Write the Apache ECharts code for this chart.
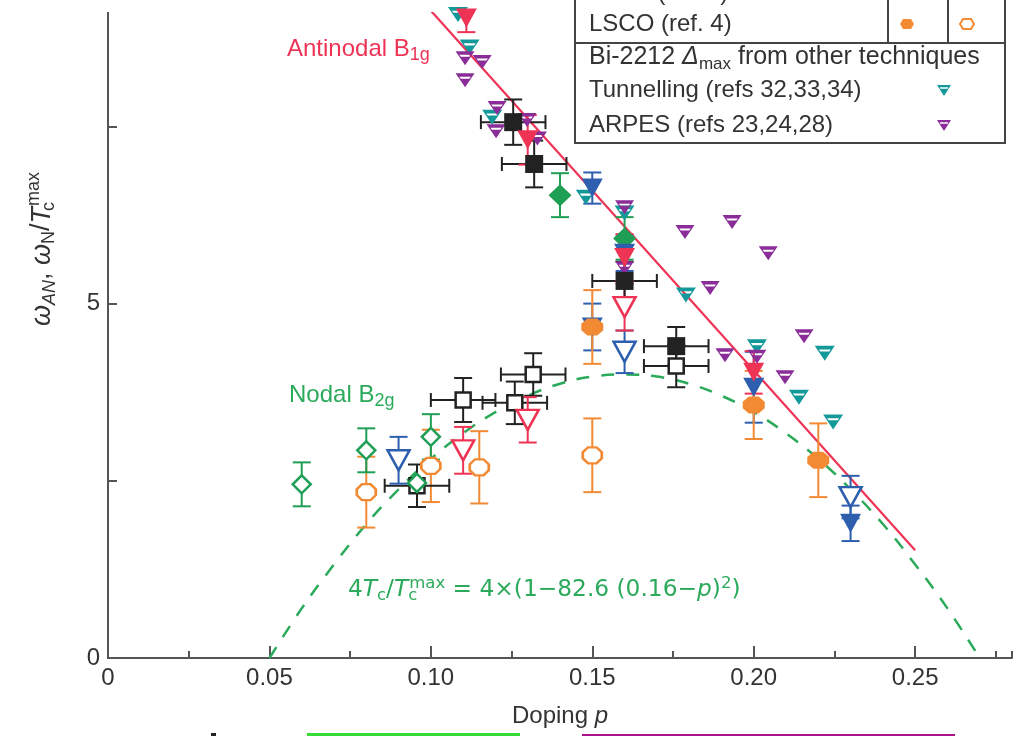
<!DOCTYPE html>
<html>
<head>
<meta charset="utf-8">
<script src="https://cdn.jsdelivr.net/npm/echarts@6/dist/echarts.min.js"></script>
<style>
html, body { margin: 0; padding: 0; background: #fff; }
#main { width: 1015px; height: 736px; }
</style>
</head>
<body>
<div id="main"></div>
<script>
// rows: [doping p, omega / Tc max, y error, p error]
var bi2212B1g = [[0.14, 6.53, 0.31, 0], [0.16, 5.92, 0.30, 0]];
var bi2212B2g = [[0.06, 2.45, 0.31, 0], [0.08, 2.93, 0.31, 0], [0.0957, 2.47, 0, 0], [0.10, 3.12, 0.32, 0]];
var hgB1g = [[0.15, 6.63, 0.22, 0], [0.15, 4.67, 0.33, 0], [0.16, 5.71, 0.25, 0], [0.20, 3.82, 0.50, 0], [0.23, 1.90, 0.25, 0]];
var hgB2g = [[0.09, 2.79, 0.33, 0], [0.16, 4.32, 0.30, 0], [0.23, 2.27, 0.30, 0]];
var tlB1g = [[0.111, 9.03, 0.20, 0], [0.13, 7.31, 0.35, 0], [0.16, 5.65, 0.33, 0], [0.20, 4.03, 0.30, 0]];
var tlB2g = [[0.11, 2.93, 0.33, 0], [0.13, 3.36, 0.32, 0], [0.16, 4.95, 0.33, 0]];
var yB1g = [[0.1255, 7.56, 0.32, 0.01], [0.132, 6.97, 0.33, 0.01], [0.16, 5.32, 0.27, 0.01], [0.176, 4.40, 0.27, 0.01]];
var yB2g = [[0.0957, 2.43, 0.30, 0.01], [0.11, 3.64, 0.31, 0.01], [0.126, 3.60, 0.30, 0.01], [0.1317, 4.00, 0.30, 0.01], [0.176, 4.12, 0.30, 0.01]];
var lscoB1g = [[0.15, 4.67, 0.52, 0], [0.20, 3.57, 0.48, 0], [0.22, 2.79, 0.52, 0]];
var lscoB2g = [[0.08, 2.34, 0.50, 0], [0.10, 2.71, 0.51, 0], [0.115, 2.69, 0.51, 0], [0.15, 2.86, 0.52, 0]];
var tunnelling = [[0.1084, 9.08], [0.112, 8.62], [0.119, 7.63], [0.148, 6.50], [0.16, 6.28], [0.179, 5.12],
  [0.201, 4.39], [0.214, 3.68], [0.222, 4.30], [0.2246, 3.33]];
var arpes = [[0.1106, 8.46], [0.1159, 8.41], [0.1106, 8.15], [0.1205, 7.76], [0.1202, 7.43], [0.1298, 7.59],
  [0.133, 7.33], [0.16, 6.36], [0.16, 5.50], [0.1787, 6.01], [0.1933, 6.15], [0.2045, 5.71], [0.1865, 5.22],
  [0.1911, 4.27], [0.201, 4.25], [0.2097, 3.96], [0.2156, 4.54]];
var antinodalLine = [[0.09, 9.64], [0.25, 1.52]];
var nodalP = [0.05, 0.06, 0.07, 0.08, 0.09, 0.10, 0.11, 0.12, 0.13, 0.14, 0.15, 0.16,
  0.17, 0.18, 0.19, 0.20, 0.21, 0.22, 0.23, 0.24, 0.25, 0.26, 0.27];
var nodalW = [0.0, 0.70, 1.32, 1.89, 2.38, 2.81, 3.17, 3.47, 3.70, 3.87, 3.97, 4.0,
  3.97, 3.87, 3.70, 3.47, 3.17, 2.81, 2.38, 1.89, 1.32, 0.70, 0.0];
var xTickLabels = [0, 0.05, 0.10, 0.15, 0.20, 0.25];
var yTicks = [0, 2.5, 5, 7.5];
var yTickLabels = [0, 5];

var FONT = 'Liberation Sans, Arial, sans-serif';
var WIDE = 'DejaVu Sans, sans-serif';
var GREEN = '#1f9e55', BLUE = '#2d5fae', RED = '#ee3355', BLACK = '#222222';
var ORANGE = '#f28a34', TEAL = '#14999a', PURPLE = '#8a2d98', TXT = '#333333';
var LGREEN = '#2aaa5a';

var TRI = 'path://M0,0 L20,0 L10,18 Z';
var OCT = 'path://M5,0 L13,0 L18,5 L18,11 L13,16 L5,16 L0,11 L0,5 Z';
var BARTRI = 'path://M0,0 L20,0 L10,14 Z M4,3.5 L5.5,5.5 L14.5,5.5 L16,3.5 Z';

function errorBars(color, cap) {
	return function(params, api) {
		var p = api.value(0), v = api.value(1), ey = api.value(2), ex = api.value(3);
		var st = { stroke: color, lineWidth: 2 };
		var parts = [];
		if (ey > 0) {
			var t = api.coord([p, v + ey]), b = api.coord([p, v - ey]);
			parts.push({ type: 'line', shape: { x1: t[0], y1: t[1], x2: b[0], y2: b[1] }, style: st });
			parts.push({ type: 'line', shape: { x1: t[0] - cap, y1: t[1], x2: t[0] + cap, y2: t[1] }, style: st });
			parts.push({ type: 'line', shape: { x1: b[0] - cap, y1: b[1], x2: b[0] + cap, y2: b[1] }, style: st });
		}
		if (ex > 0) {
			var l = api.coord([p - ex, v]), r = api.coord([p + ex, v]);
			parts.push({ type: 'line', shape: { x1: l[0], y1: l[1], x2: r[0], y2: r[1] }, style: st });
			parts.push({ type: 'line', shape: { x1: l[0], y1: l[1] - 7, x2: l[0], y2: l[1] + 7 }, style: st });
			parts.push({ type: 'line', shape: { x1: r[0], y1: r[1] - 7, x2: r[0], y2: r[1] + 7 }, style: st });
		}
		return { type: 'group', children: parts };
	};
}

function group(data, color, symbol, size, open) {
	return [{
		type: 'custom',
		clip: true,
		renderItem: errorBars(color, 9),
		encode: { x: 0, y: 1 },
		data: data,
		silent: true
	}, {
		type: 'scatter',
		symbol: symbol,
		symbolSize: size,
		data: data.map(function(d) { return [d[0], d[1]]; }),
		itemStyle: {
			color: open ? '#ffffff' : color,
			borderColor: color,
			borderWidth: open ? 2.5 : 0,
			opacity: 1
		}
	}];
}

// rich text with sub / superscripts
function richText(x, y, text, color, o) {
	o = o || {};
	var f = o.font || FONT, big = o.size || 24, small = o.sub || 16, lh = big + 6;
	var r = {
		n: { fontSize: big, lineHeight: lh, fontFamily: f },
		i: { fontSize: big, lineHeight: lh, fontFamily: f, fontStyle: 'italic' },
		s: { fontSize: small, lineHeight: 8, fontFamily: f, verticalAlign: 'bottom' },
		si: { fontSize: small, lineHeight: 8, fontFamily: f, fontStyle: 'italic', verticalAlign: 'bottom' },
		sz: { fontSize: small, lineHeight: 8, fontFamily: f, verticalAlign: 'bottom', width: 1 },
		p: { fontSize: small, lineHeight: 8, fontFamily: f, verticalAlign: 'top' }
	};
	for (var k in r) {
		r[k].fill = color;
		r[k].color = color;
	}
	var al = o.align || 'left';
	return {
		type: 'text', x: x, y: y, z: 50, rotation: o.rotation || 0,
		style: {
			text: text, rich: r, fill: color,
			fontSize: big, fontFamily: f,
			align: al, verticalAlign: 'middle',
			textAlign: al, textVerticalAlign: 'middle'
		}
	};
}

var series = [];
series.push({
	type: 'line',
	data: nodalP.map(function(p, i) { return [p, nodalW[i]]; }),
	showSymbol: false,
	smooth: 0.4,
	lineStyle: { color: LGREEN, width: 2.5, type: [13, 12] },
	z: 1
});
series.push({
	type: 'line',
	data: antinodalLine,
	showSymbol: false,
	lineStyle: { color: RED, width: 2.2 },
	z: 1
});
series = series.concat(
	group(tunnelling.map(function(d) { return [d[0], d[1], 0, 0]; }), TEAL, BARTRI, [20, 15], false),
	group(arpes.map(function(d) { return [d[0], d[1], 0, 0]; }), PURPLE, BARTRI, [19, 14], false),
	group(lscoB2g, ORANGE, OCT, [19, 16], true),
	group(yB2g, BLACK, 'rect', [15, 15], true),
	group(bi2212B2g, GREEN, 'diamond', [18, 18], true),
	group(hgB2g, BLUE, TRI, [22, 20], true),
	group(tlB2g, RED, TRI, [22, 20], true),
	group(bi2212B1g, GREEN, 'diamond', [23, 22], false),
	group(hgB1g, BLUE, TRI, [21, 19], false),
	group(lscoB1g, ORANGE, OCT, [22, 17], false),
	group(yB1g, BLACK, 'rect', [18, 18], false),
	group(tlB1g, RED, TRI, [21, 19], false)
);

var legendG = [
	{ type: 'rect', z: 40, shape: { x: 575, y: -40, width: 430, height: 183 }, style: { fill: '#fff', stroke: '#444', lineWidth: 2 } },
	{ type: 'line', z: 41, shape: { x1: 575, y1: 43, x2: 1005, y2: 43 }, style: { stroke: '#444', lineWidth: 2 } },
	{ type: 'line', z: 41, shape: { x1: 888, y1: -40, x2: 888, y2: 43 }, style: { stroke: '#444', lineWidth: 2 } },
	{ type: 'line', z: 41, shape: { x1: 948, y1: -40, x2: 948, y2: 43 }, style: { stroke: '#444', lineWidth: 2 } },
	richText(589, -7, '{n|Y-123 (ref. 4)}', TXT),
	richText(589, 24, '{n|LSCO (ref. 4)}', TXT),
	richText(589, 57, '{n|Bi-2212 }{i|Δ}{s|max}{n| from other techniques}', TXT, { size: 25, sub: 17 }),
	richText(589, 90, '{n|Tunnelling (refs 32,33,34)}', TXT),
	richText(589, 125, '{n|ARPES (refs 23,24,28)}', TXT),
	{ type: 'polygon', z: 42, shape: { points: [[903, 19], [911, 19], [914, 24], [911, 29], [903, 29], [900, 24]] }, style: { fill: ORANGE } },
	{ type: 'polygon', z: 42, shape: { points: [[963, 19], [971, 19], [974, 24], [971, 29], [963, 29], [960, 24]] }, style: { fill: '#fff', stroke: ORANGE, lineWidth: 2 } },
	{ type: 'polygon', z: 42, shape: { points: [[937, 85], [951, 85], [944, 96]] }, style: { fill: TEAL } },
	{ type: 'line', z: 43, shape: { x1: 940, y1: 88, x2: 948, y2: 88 }, style: { stroke: '#fff', lineWidth: 1.5 } },
	{ type: 'polygon', z: 42, shape: { points: [[937, 120], [951, 120], [944, 131]] }, style: { fill: PURPLE } },
	{ type: 'line', z: 43, shape: { x1: 940, y1: 123, x2: 948, y2: 123 }, style: { stroke: '#fff', lineWidth: 1.5 } }
];

var labelsG = [
	richText(287, 49, '{n|Antinodal B}{s|1g}', RED, { sub: 18 }),
	richText(289, 395, '{n|Nodal B}{s|2g}', LGREEN, { sub: 18 }),
	richText(348, 590, '{n|4}{i|T}{s|c}{n|/}{i|T}{sz|c}{p|max}{n| = 4×(1−82.6 (0.16−}{i|p}{n|)}{p|2}{n|)}', LGREEN,
		{ font: WIDE, size: 23.3, sub: 16.5 }),
	richText(512, 716, '{n|Doping }{i|p}', TXT),
	richText(42, 249, '{i|ω}{si|AN}{n|, }{i|ω}{s|N}{n|/}{i|T}{sz|c}{p|max}', TXT,
		{ size: 27, sub: 18, align: 'center', rotation: Math.PI / 2 }),
	{ type: 'rect', shape: { x: 307, y: 733, width: 213, height: 3 }, style: { fill: '#33dd33' } },
	{ type: 'rect', shape: { x: 582, y: 734, width: 373, height: 2 }, style: { fill: '#aa1188' } },
	{ type: 'rect', shape: { x: 211, y: 733, width: 5, height: 3 }, style: { fill: '#222' } }
];

function xLabel(v) {
	if (Math.abs(v * 20 - Math.round(v * 20)) > 1e-6) return '';
	return v === 0 ? '0' : v.toFixed(2);
}

var axisCol = '#555555';
var option = {
	animation: false,
	backgroundColor: '#ffffff',
	grid: { left: 108, right: 3, top: 13, bottom: 78 },
	xAxis: [{
		type: 'value', min: 0, max: 0.28, interval: 0.05,
		axisLine: { lineStyle: { color: axisCol, width: 2 } },
		axisTick: { inside: true, length: 12, customValues: xTickLabels, lineStyle: { color: axisCol, width: 2 } },
		axisLabel: { formatter: xLabel, customValues: xTickLabels, fontSize: 24, fontFamily: FONT, color: TXT, margin: 8 },
		splitLine: { show: false }
	}, {
		type: 'value', min: 0, max: 0.28, interval: 0.025, position: 'bottom',
		axisLine: { show: false },
		axisTick: { inside: true, length: 7, lineStyle: { color: axisCol, width: 2 } },
		axisLabel: { show: false },
		splitLine: { show: false }
	}],
	yAxis: [{
		type: 'value', min: 0, max: 9.1, interval: 2.5,
		axisLine: { show: true, lineStyle: { color: axisCol, width: 2 } },
		axisTick: { inside: true, length: 9, customValues: yTicks, lineStyle: { color: axisCol, width: 2 } },
		axisLabel: {
			customValues: yTickLabels,
			formatter: function(v) { return v === 0 ? '0' : (v === 5 ? '5' : ''); },
			fontSize: 24, fontFamily: FONT, color: TXT, margin: 8
		},
		splitLine: { show: false }
	}, {
		type: 'value', min: 0, max: 9.1, position: 'right',
		axisLine: { show: true, lineStyle: { color: axisCol, width: 2 } },
		axisTick: { show: false },
		axisLabel: { show: false },
		splitLine: { show: false }
	}],
	series: series,
	graphic: { elements: legendG.concat(labelsG) }
};

var chart = echarts.init(document.getElementById('main'));
chart.setOption(option);
</script>
</body>
</html>
